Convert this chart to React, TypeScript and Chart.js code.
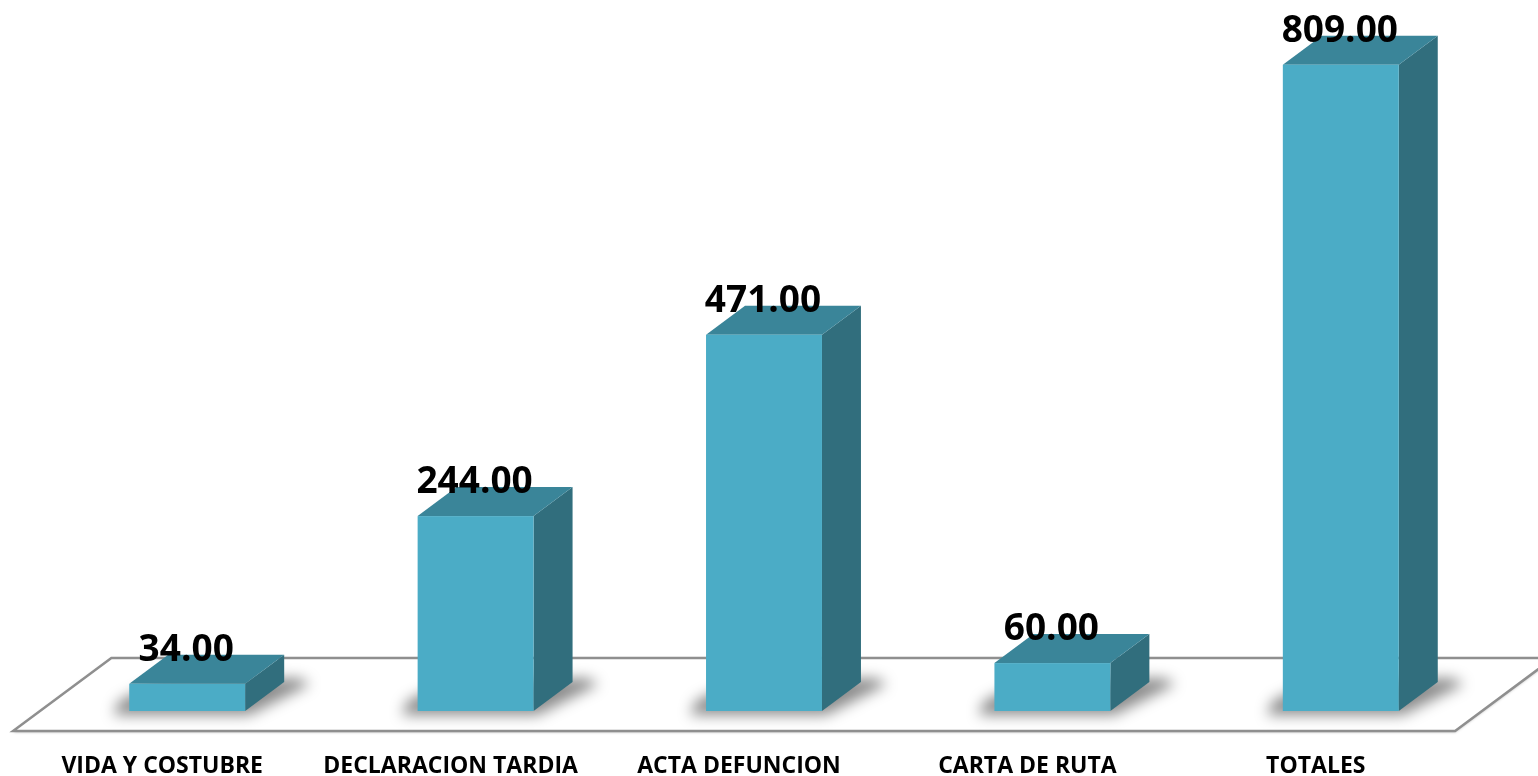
import React, { useEffect, useRef } from "react";
import { Chart, registerables } from "chart.js";

Chart.register(...registerables);

const categories = ["VIDA Y COSTUBRE", "DECLARACION TARDIA", "ACTA DEFUNCION", "CARTA DE RUTA", "TOTALES"];
const values = [34, 244, 471, 60, 809];

const FRONT = "#4BACC6";
const TOP = "#3A8599";
const SIDE = "#316E7D";
const DX = 39;
const DY = -29;

const bars3d = {
  id: "bars3d",
  beforeDatasetsDraw(chart: any) {
    const { ctx, chartArea } = chart;
    const yBase = chart.scales.y.getPixelForValue(0);
    const l = chartArea.left - 3;
    const r = chartArea.right - 3;
    const fk = 0.69;
    const bk = 1.83;
    ctx.save();
    ctx.beginPath();
    ctx.moveTo(l - fk * DX, yBase - fk * DY);
    ctx.lineTo(r - fk * DX, yBase - fk * DY);
    ctx.lineTo(r + bk * DX, yBase + bk * DY);
    ctx.lineTo(l + bk * DX, yBase + bk * DY);
    ctx.closePath();
    ctx.fillStyle = "#ffffff";
    ctx.shadowColor = "rgba(0,0,0,0.35)";
    ctx.shadowBlur = 3;
    ctx.shadowOffsetY = 1;
    ctx.fill();
    ctx.shadowColor = "transparent";
    ctx.strokeStyle = "#8f8f8f";
    ctx.lineWidth = 2.5;
    ctx.stroke();
    ctx.restore();
  },
  afterDatasetsDraw(chart: any) {
    const { ctx } = chart;
    const meta = chart.getDatasetMeta(0);
    ctx.save();
    meta.data.forEach((bar: any) => {
      const p = bar.getProps(["x", "y", "base", "width"], true);
      const x0 = p.x - p.width / 2;
      const x1 = p.x + p.width / 2;
      const yt = p.y;
      const yb = p.base;
      // soft shadow on floor
      ctx.save();
      ctx.filter = "blur(7px)";
      ctx.fillStyle = "rgba(0,0,0,0.45)";
      ctx.beginPath();
      ctx.moveTo(x0 - 16, yb + 4);
      ctx.lineTo(x1 + 4, yb + 4);
      ctx.lineTo(x1 + DX + 26, yb + DY + 2);
      ctx.lineTo(x1 + DX + 14, yb + DY - 4);
      ctx.lineTo(x0 + DX - 10, yb + DY);
      ctx.lineTo(x0 - 10, yb - 10);
      ctx.closePath();
      ctx.fill();
      ctx.restore();
      // side
      ctx.fillStyle = SIDE;
      ctx.beginPath();
      ctx.moveTo(x1, yt);
      ctx.lineTo(x1 + DX, yt + DY);
      ctx.lineTo(x1 + DX, yb + DY);
      ctx.lineTo(x1, yb);
      ctx.closePath();
      ctx.fill();
      // top
      ctx.fillStyle = TOP;
      ctx.beginPath();
      ctx.moveTo(x0, yt);
      ctx.lineTo(x0 + DX, yt + DY);
      ctx.lineTo(x1 + DX, yt + DY);
      ctx.lineTo(x1, yt);
      ctx.closePath();
      ctx.fill();
      // front
      ctx.fillStyle = FRONT;
      ctx.fillRect(x0, yt, x1 - x0, yb - yt);
    });
    // value labels
    ctx.fillStyle = "#000000";
    ctx.font = "bold 37px 'Open Sans'";
    ctx.textAlign = "center";
    ctx.textBaseline = "alphabetic";
    meta.data.forEach((bar: any, i: number) => {
      const p = bar.getProps(["x", "y"], true);
      ctx.fillText(values[i].toFixed(2), p.x - 1, p.y - 23);
    });
    // category labels along floor front edge
    const xs = chart.scales.x;
    ctx.font = "bold 23px 'Open Sans'";
    categories.forEach((c, i) => {
      const x = xs.getPixelForValue(i) - 25;
      ctx.fillText(c, x, 773);
    });
    ctx.restore();
  },
};

export default function App() {
  const ref = useRef<HTMLCanvasElement | null>(null);
  useEffect(() => {
    document.body.style.margin = "0";
    const chart = new Chart(ref.current as HTMLCanvasElement, {
      type: "bar",
      data: {
        labels: categories,
        datasets: [
          {
            data: values,
            backgroundColor: "rgba(0,0,0,0)",
            borderWidth: 0,
            categoryPercentage: 1,
            barPercentage: 0.402,
          },
        ],
      },
      options: {
        animation: false,
        responsive: false,
        layout: { padding: { left: 43, right: 53, top: 32, bottom: 65 } },
        plugins: { legend: { display: false }, tooltip: { enabled: false } },
        scales: {
          x: { display: false, offset: true },
          y: { display: false, min: 0, max: 850 },
        },
      },
      plugins: [bars3d],
    });
    return () => chart.destroy();
  }, []);
  return (
    <div style={{ position: "fixed", left: 0, top: 0, width: 1538, height: 776, background: "#fff" }}>
      <canvas ref={ref} width={1538} height={776} style={{ width: 1538, height: 776 }} />
    </div>
  );
}
